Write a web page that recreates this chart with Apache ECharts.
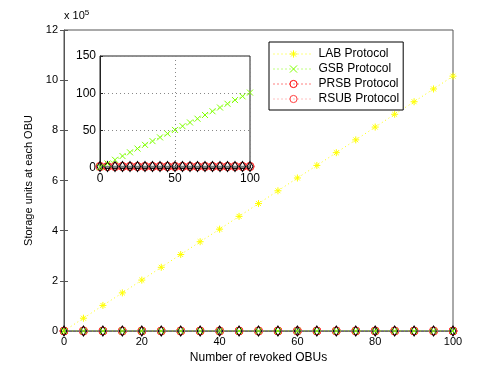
<!DOCTYPE html>
<html>
<head>
<meta charset="utf-8">
<script src="https://cdn.jsdelivr.net/npm/echarts@6/dist/echarts.min.js"></script>
<style>
  html, body { margin: 0; padding: 0; background: #fff; }
  #chart { width: 498px; height: 375px; }
</style>
</head>
<body>
<div id="chart"></div>
<script>
// number of revoked OBUs
const revoked = [0, 5, 10, 15, 20, 25, 30, 35, 40, 45, 50, 55, 60, 65, 70, 75, 80, 85, 90, 95, 100]
// storage units (raw)
const labStorage = [0, 51000, 102000, 152000, 203000, 254000, 305000, 356000, 406000, 457000, 508000,
  559000, 610000, 660000, 711000, 762000, 813000, 864000, 914000, 965000, 1016000]
const gsbStorage = [1, 6, 11, 16, 21, 26, 31, 36, 41, 46, 51, 56, 61, 66, 71, 76, 81, 86, 91, 96, 101]
const prsbStorage = [2, 2, 2, 2, 2, 2, 2, 2, 2, 2, 2, 2, 2, 2, 2, 2, 2, 2, 2, 2, 2]
const rsubStorage = [2, 2, 2, 2, 2, 2, 2, 2, 2, 2, 2, 2, 2, 2, 2, 2, 2, 2, 2, 2, 2]
const otherStorage = [2, 2, 2, 2, 2, 2, 2, 2, 2, 2, 2, 2, 2, 2, 2, 2, 2, 2, 2, 2, 2]

const legendNames = ['LAB Protocol', 'GSB Protocol', 'PRSB Protocol', 'RSUB Protocol']
const font = 'Liberation Sans, Arial, sans-serif'

const STAR = 'path://M5,0L5,10M0,5L10,5M1.5,1.5L8.5,8.5M8.5,1.5L1.5,8.5'
const CROSS = 'path://M0,0L10,10M10,0L0,10'

function pairs(ys) {
  return revoked.map((x, i) => [x, ys[i]])
}

function mkSeries(name, ys, idx, opt) {
  return Object.assign({
    name: name,
    type: 'line',
    xAxisIndex: idx,
    yAxisIndex: idx,
    data: pairs(ys),
    showSymbol: true,
    animation: false,
    clip: true
  }, opt)
}

const labStyle = {
  symbol: STAR, symbolSize: 7,
  lineStyle: { color: '#ffff00', width: 1, type: [1, 3] },
  itemStyle: { color: 'rgba(0,0,0,0)', borderColor: '#ffff00', borderWidth: 1 }
}
const gsbStyle = {
  symbol: CROSS, symbolSize: 6, z: 5,
  lineStyle: { color: '#80ff00', width: 1, type: [1, 3] },
  itemStyle: { color: 'rgba(0,0,0,0)', borderColor: '#80ff00', borderWidth: 1 }
}
const prsbStyle = {
  symbol: 'circle', symbolSize: 8, z: 3,
  lineStyle: { color: '#ff0000', width: 1, type: [1, 3] },
  itemStyle: { color: 'rgba(0,0,0,0)', borderColor: '#ff0000', borderWidth: 1 }
}
const rsubStyle = {
  symbol: 'circle', symbolSize: 8, z: 3,
  lineStyle: { color: '#ff8080', width: 1, type: [1, 3] },
  itemStyle: { color: 'rgba(0,0,0,0)', borderColor: '#ff4040', borderWidth: 1 }
}
const otherStyle = {
  symbol: 'diamond', symbolSize: [6, 10], z: 4,
  lineStyle: { color: '#808080', width: 1.5 },
  itemStyle: { color: 'rgba(0,0,0,0)', borderColor: '#000', borderWidth: 1 }
}

const tickLbl = { color: '#000', fontSize: 11, fontFamily: font }

const chart = echarts.init(document.getElementById('chart'), null, { renderer: 'canvas' })
chart.setOption({
  backgroundColor: '#fff',
  textStyle: { fontFamily: font },
  title: {
    text: 'x 10{s|5}',
    left: 64, top: 9,
    textStyle: {
      fontSize: 11, fontWeight: 'normal', color: '#000', fontFamily: font,
      rich: { s: { fontSize: 8, verticalAlign: 'top', padding: [0, 0, 6, 0], color: '#000' } }
    },
    padding: 0
  },
  legend: {
    data: legendNames,
    orient: 'vertical',
    left: 269, top: 42,
    padding: [6, 4, 5, 4],
    itemWidth: 40, itemHeight: 9,
    itemGap: 3,
    itemStyle: { borderWidth: 1 },
    lineStyle: { width: 1 },
    backgroundColor: '#fff',
    borderColor: '#000', borderWidth: 1,
    textStyle: { fontSize: 12, color: '#000', fontFamily: font },
    z: 20
  },
  grid: [
    { left: 64, right: 45, top: 30, bottom: 44, show: true, borderColor: '#555', borderWidth: 1, backgroundColor: '#fff' },
    { left: 100, right: 248, top: 56, bottom: 207, show: true, borderColor: '#222', borderWidth: 1, backgroundColor: '#fff', z: 10 }
  ],
  xAxis: [
    {
      type: 'value', gridIndex: 0, min: 0, max: 100, interval: 20,
      name: 'Number of revoked OBUs', nameLocation: 'middle', nameGap: 21,
      nameTextStyle: { fontSize: 12, color: '#000', fontFamily: font },
      axisLine: { show: true, onZero: false, lineStyle: { color: '#555' } },
      axisTick: { inside: true, length: 4, lineStyle: { color: '#555' } },
      axisLabel: Object.assign({ margin: 5 }, tickLbl),
      splitLine: { show: false }
    },
    {
      type: 'value', gridIndex: 1, min: 0, max: 100, interval: 50,
      axisLine: { show: true, onZero: false, lineStyle: { color: '#222' } },
      axisTick: { inside: true, length: 3, lineStyle: { color: '#222' } },
      axisLabel: Object.assign({ margin: 5 }, tickLbl, { fontSize: 12 }),
      splitLine: { show: true, lineStyle: { color: '#888', type: [1, 3] } },
      z: 11
    },
    {
      type: 'value', gridIndex: 0, position: 'top', min: 0, max: 100, interval: 20,
      axisLine: { show: false },
      axisTick: { inside: true, length: 4, lineStyle: { color: '#555' } },
      axisLabel: { show: false }, splitLine: { show: false }
    }
  ],
  yAxis: [
    {
      type: 'value', gridIndex: 0, min: 0, max: 1200000, interval: 200000,
      name: 'Storage units at each OBU', nameLocation: 'middle', nameGap: 25,
      nameTextStyle: { fontSize: 11, color: '#000', fontFamily: font },
      axisLine: { show: true, onZero: false, lineStyle: { color: '#555' } },
      axisTick: { inside: true, length: 4, lineStyle: { color: '#555' } },
      axisLabel: Object.assign({ margin: 6, formatter: v => String(v / 100000) }, tickLbl),
      splitLine: { show: false }
    },
    {
      type: 'value', gridIndex: 1, min: 0, max: 150, interval: 50,
      axisLine: { show: true, onZero: false, lineStyle: { color: '#222' } },
      axisTick: { inside: true, length: 3, lineStyle: { color: '#222' } },
      axisLabel: Object.assign({ margin: 4 }, tickLbl, { fontSize: 12 }),
      splitLine: { show: true, lineStyle: { color: '#888', type: [1, 3] } },
      z: 11
    },
    {
      type: 'value', gridIndex: 0, position: 'right', min: 0, max: 1200000, interval: 200000,
      axisLine: { show: false },
      axisTick: { inside: true, length: 4, lineStyle: { color: '#555' } },
      axisLabel: { show: false }, splitLine: { show: false }
    }
  ],
  series: [
    mkSeries('LAB Protocol', labStorage, 0, labStyle),
    mkSeries('GSB Protocol', gsbStorage, 0, gsbStyle),
    mkSeries('PRSB Protocol', prsbStorage, 0, prsbStyle),
    mkSeries('RSUB Protocol', rsubStorage, 0, rsubStyle),
    mkSeries('Other', otherStorage, 0, otherStyle),
    mkSeries('GSB Protocol', gsbStorage, 1, Object.assign({}, gsbStyle, { z: 15 })),
    mkSeries('PRSB Protocol', prsbStorage, 1, Object.assign({}, prsbStyle, { z: 13 })),
    mkSeries('RSUB Protocol', rsubStorage, 1, Object.assign({}, rsubStyle, { z: 13 })),
    mkSeries('Other', otherStorage, 1, Object.assign({}, otherStyle, { z: 14 }))
  ]
})
</script>
</body>
</html>
